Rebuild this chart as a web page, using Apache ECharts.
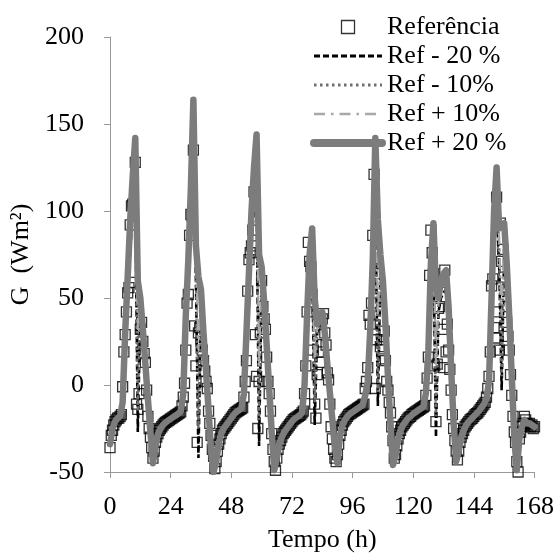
<!DOCTYPE html>
<html>
<head>
<meta charset="utf-8">
<script src="https://cdn.jsdelivr.net/npm/echarts@6/dist/echarts.min.js"></script>
<style>html,body{margin:0;padding:0;background:#fff}#c{width:557px;height:558px}</style>
</head>
<body>
<div id="c"></div>
<script>
// x ticks and y ticks
const xTicks = [0, 24, 48, 72, 96, 120, 144, 168];
const yTicks = [-50, 0, 50, 100, 150, 200];
const seriesNames = ['Referência', 'Ref - 20 %', 'Ref - 10%', 'Ref + 10%', 'Ref + 20 %'];

// Reference measurements, every 0.5 h from 0 h to 168 h
const refStep = 0.5;
const refValues = [
  -36,-29,-26,-23,-21,-20,-19,-19,-18,-17,-1,19,
  29,42,53,56,92,103,104,59,128,-11,-14,-5,
  32,36,25,18,13,-3,-18,-25,-30,-36,-42,-38,
  -33,-30,-28,-26,-25,-24,-23,-22,-21.5,-21,-20.5,-20,
  -19.5,-19,-18.5,-18,-17.5,-17,-16.5,-16,-15.5,-12,-7,1,
  20,47,52,86,98,97,135,34,11,-33,30,33,
  25,20,14,8,2,-2,-15,-22,-29,-37,-41,-48,
  -44,-38,-34,-31,-28,-26,-25,-24,-23,-22,-21,-20,
  -19,-18,-17,-16,-15.5,-15,-14.5,-14,-13.5,-13,-7,2,
  14,54,72,76,80,89,111,29,5,-25,2,30,
  60,45,38,32,16,2,-5,-15,-28,-37,-44,-49,
  -42,-37,-34,-32,-30,-28,-27,-26,-25,-24,-23,-22,
  -21,-20,-19.5,-19,-18.5,-18,-17.5,-17,-16,-15,-5,11,
  42,82,71,68,52,20,-11,-19,6,19,13,29,
  38,41,30,23,7,3,-11,-24,-31,-37,-42,-44,
  -40,-34,-29,-26,-23,-21,-20,-19,-18,-17,-16.5,-16,
  -15.5,-15,-14.5,-14,-13.5,-13,-12.5,-12,-11.5,-11,-2,2,
  10,40,35,47,86,121,-2,26,70,64,22,26,
  15,31,14,2,-3,-10,-16,-24,-32,-42,-40,-35,
  -31,-28,-26,-24,-23,-22,-21,-20,-19,-18.5,-18,-17,
  -16.5,-16,-15.5,-15,-14.5,-14,-13.5,-13,-12.5,-12,-6,4,
  16,63,89,76,64,11,-21,12,44,45,59,32,
  10,66,19,35,20,9,-3,-17,-25,-32,-38,-43,
  -38,-33,-30,-28,-26,-24,-23,-22,-21,-20,-19.5,-19,
  -18,-17,-16.5,-16,-15,-14,-13,-12,-11,-10,-7,-2,
  5,19,57,61,33,27,108,42,20,93,71,78,
  62,45,36,28,20,6,-6,-18,-27,-33,-44,-50,
  -31,-27,-24,-22,-18,-20,-22,-23,-22,-24,-23,-25,
  -24
];

// Simulated curves, every 1 h from 0 h to 168 h
const lineStep = 1;
const refMinus20 = [
  -34,-25,-21,-19,-18,-11,22,50,78,98,112,-27,42,28,10,-9,-27,-43,-35,-28,-25,-23,-21.5,-20.5,
  -19.5,-18.5,-17.5,-16.5,-15,-6,32,58,92,130,60,-42,45,26,6,-15,-37,-48,-43,-34,-28,-25,-23,-21,
  -19,-17,-15.5,-14.5,-13.5,-6,24,52,82,102,112,-35,56,40,20,-3,-26,-46,-41,-34,-30,-27,-25,-23,
  -21,-19.5,-18.5,-17.5,-16,-1,33,62,72,-23,30,34,36,26,10,-5,-20,-35,-43,-29,-23,-20,-18,-16.5,
  -15.5,-14.5,-13.5,-12.5,-11.5,-6,1,26,60,112,-12,62,50,30,4,-21,-44,-39,-31,-26,-23,-21,-19,-18,
  -16.5,-15.5,-14.5,-13.5,-12.5,-5,16,58,76,-30,42,50,53,55,38,8,-21,-42,-37,-30,-26,-23,-21,-19.5,
  -18,-16.5,-15,-13,-11,-8,1,41,82,100,72,-3,77,58,33,4,-29,-47,-31,-24,-20,-22,-22,-23,
  -24
];
const refMinus10 = [
  -34,-25,-21,-19,-18,-10.5,25,54,84,106,124,-15,46,30,11,-8.5,-27,-44,-35,-28,-25,-23,-21.5,-20.5,
  -19.5,-18.5,-17.5,-16.5,-15,-5.5,35,64,100,145,68,-25,50,28,7,-14.5,-37.5,-49,-43.5,-34,-28,-25,-23,-21,
  -19,-17,-15.5,-14.5,-13.5,-5.5,27,58,90,112,126,-20,62,44,21,-2.5,-26.5,-47.5,-41.5,-34,-30,-27,-25,-23,
  -21,-19.5,-18.5,-17.5,-16,-0.5,36,68,80,-10,32,37,39,28,11,-4.5,-20,-35.5,-44,-29,-23,-20,-18,-16.5,
  -15.5,-14.5,-13.5,-12.5,-11.5,-6,1.5,29,66,126,-4,68,55,32,4.5,-21.5,-45,-39.5,-31,-26,-23,-21,-19,-18,
  -16.5,-15.5,-14.5,-13.5,-12.5,-5,18,64,84,-18,46,55,58,60,41,9,-21.5,-43,-37.5,-30,-26,-23,-21,-19.5,
  -18,-16.5,-15,-13,-11,-8,1.5,45,90,112,80,5,84,64,36,4.5,-29.5,-48,-31,-24,-20,-22,-22,-23,
  -24
];
const refPlus10 = [
  -34,-25,-21,-19,-18,-10,27,58,90,113,133,30,48,31,11.5,-8,-27,-44.5,-35,-28,-25,-23,-21.5,-20.5,
  -19.5,-18.5,-17.5,-16.5,-15,-5,37,68,106,154,74,20,52,29,7.5,-14,-37.5,-49.5,-43.5,-34,-28,-25,-23,-21,
  -19,-17,-15.5,-14.5,-13.5,-5,28,61,95,118,135,10,65,46,22,-2,-27,-48,-42,-34,-30,-27,-25,-23,
  -21,-19.5,-18.5,-17.5,-16,0,38,72,85,12,33,38,40,29,11.5,-4,-20,-36,-44.5,-29,-23,-20,-18,-16.5,
  -15.5,-14.5,-13.5,-12.5,-11.5,-6,2,30,69,134,40,72,58,34,5,-22,-45.5,-40,-31,-26,-23,-21,-19,-18,
  -16.5,-15.5,-14.5,-13.5,-12.5,-5,19,67,88,10,48,58,61,63,43,9.5,-22,-43.5,-38,-30,-26,-23,-21,-19.5,
  -18,-16.5,-15,-13,-11,-8,2,48,95,118,85,40,88,67,38,5,-30,-48.5,-31,-24,-20,-22,-22,-23,
  -24
];
const refPlus20 = [
  -34,-25,-21,-19,-18,-10,30,62,95,120,142,60,50,32,12,-8,-27,-45,-35,-28,-25,-23,-21.5,-20.5,
  -19.5,-18.5,-17.5,-16.5,-15,-5,40,72,113,164,80,62,55,30,8,-14,-38,-50,-44,-34,-28,-25,-23,-21,
  -19,-17,-15.5,-14.5,-13.5,-5,30,65,100,125,144,75,68,48,23,-2,-27,-49,-42,-34,-30,-27,-25,-23,
  -21,-19.5,-18.5,-17.5,-16,0,40,75,90,50,35,40,42,30,12,-4,-20,-36,-45,-29,-23,-20,-18,-16.5,
  -15.5,-14.5,-13.5,-12.5,-11.5,-6,2,32,72,142,95,75,60,35,5,-22,-46,-40,-31,-26,-23,-21,-19,-18,
  -16.5,-15.5,-14.5,-13.5,-12.5,-5,20,70,93,55,50,60,64,66,45,10,-22,-44,-38,-30,-26,-23,-21,-19.5,
  -18,-16.5,-15,-13,-11,-8,2,50,100,125,90,92,93,70,40,5,-30,-49,-31,-24,-20,-22,-22,-23,
  -24
];

const FONT = 'Liberation Serif, Times New Roman, serif';
const pairs = (vals, step) => vals.map((v, i) => [i * step, v]);

const chart = echarts.init(document.getElementById('c'), null, {renderer: 'canvas'});

const lineDefs = [
  {name: seriesNames[1], data: refMinus20, style: {color: '#000', width: 2.6, type: [6, 3]}},
  {name: seriesNames[2], data: refMinus10, style: {color: '#6e6e6e', width: 2.6, type: [2.5, 3]}},
  {name: seriesNames[3], data: refPlus10, style: {color: '#a8a8a8', width: 2.2, type: [11, 6, 2.5, 6]}},
  {name: seriesNames[4], data: refPlus20, style: {color: '#7c7c7c', width: 6.5, type: 'solid', cap: 'round', join: 'round'}}
];

const series = lineDefs.map(d => ({
  name: d.name,
  type: 'line',
  data: pairs(d.data, lineStep),
  symbol: 'none',
  showSymbol: false,
  lineStyle: d.style,
  itemStyle: {color: d.style.color},
  emphasis: {disabled: true},
  animation: false
}));
series.push({
  name: seriesNames[0],
  type: 'scatter',
  data: pairs(refValues, refStep),
  symbol: 'rect',
  symbolSize: 10,
  itemStyle: {color: 'rgba(0,0,0,0)', borderColor: '#000', borderWidth: 1.3},
  emphasis: {disabled: true},
  animation: false
});

const hiddenSymbol = {opacity: 0};

chart.setOption({
  backgroundColor: '#fff',
  animation: false,
  grid: {left: 110, right: 22, top: 37, bottom: 78},
  legend: {
    orient: 'vertical',
    left: 305,
    top: 9,
    itemWidth: 68,
    itemHeight: 13,
    itemGap: 3,
    selectedMode: false,
    symbolKeepAspect: true,
    textStyle: {fontFamily: FONT, fontSize: 26, color: '#000', lineHeight: 24},
    data: [
      {name: seriesNames[0], icon: 'path://M0,0H10V10H0Z',
        itemStyle: {color: 'rgba(0,0,0,0)', borderColor: '#000', borderWidth: 1.3}},
      {name: seriesNames[1], itemStyle: hiddenSymbol, lineStyle: {width: 3, type: [6, 3], color: '#000'}},
      {name: seriesNames[2], itemStyle: hiddenSymbol, lineStyle: {width: 3, type: [2.5, 3.5], color: '#6e6e6e'}},
      {name: seriesNames[3], itemStyle: hiddenSymbol, lineStyle: {width: 2.5, type: [11, 6, 2.5, 6], color: '#a8a8a8'}},
      {name: seriesNames[4], itemStyle: hiddenSymbol, lineStyle: {width: 8, color: '#7c7c7c', cap: 'round'}}
    ]
  },
  xAxis: {
    type: 'value',
    min: xTicks[0],
    max: xTicks[xTicks.length - 1],
    interval: 24,
    name: 'Tempo (h)',
    nameLocation: 'middle',
    nameGap: 55,
    nameTextStyle: {fontFamily: FONT, fontSize: 26, color: '#000'},
    axisLine: {show: true, onZero: false, lineStyle: {color: '#999', width: 1}},
    axisTick: {show: true, length: 6, lineStyle: {color: '#999'}},
    axisLabel: {fontFamily: FONT, fontSize: 26, color: '#000', margin: 22,
      formatter: v => xTicks.includes(v) ? String(v) : ''},
    splitLine: {show: false}
  },
  yAxis: {
    type: 'value',
    min: yTicks[0],
    max: yTicks[yTicks.length - 1],
    interval: 50,
    name: 'G  (Wm²)',
    nameLocation: 'middle',
    nameGap: 71,
    nameTextStyle: {fontFamily: FONT, fontSize: 26, color: '#000'},
    axisLine: {show: true, onZero: false, lineStyle: {color: '#999', width: 1}},
    axisTick: {show: true, length: 6, lineStyle: {color: '#999'}},
    axisLabel: {fontFamily: FONT, fontSize: 26, color: '#000', margin: 26,
      formatter: v => yTicks.includes(v) ? String(v) : ''},
    splitLine: {show: false}
  },
  series: series
});
</script>
</body>
</html>
